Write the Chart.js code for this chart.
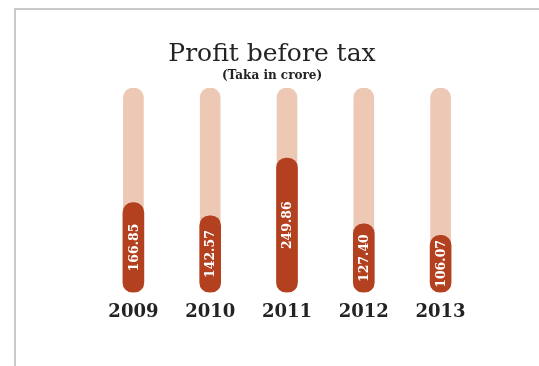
<!DOCTYPE html>
<html>
<head>
<meta charset="utf-8">
<title>Profit before tax</title>
<script src="https://cdn.jsdelivr.net/npm/chart.js@4/dist/chart.umd.min.js"></script>
<style>
  html, body { margin: 0; padding: 0; background: #ffffff; }
  #wrap { position: relative; width: 539px; height: 366px; overflow: hidden; }
  #frame {
    position: absolute; left: 14px; top: 8px; right: -4px; bottom: -4px;
    border-top: 2px solid #c9c9c9; border-left: 2px solid #c9c9c9;
    pointer-events: none;
  }
  canvas { position: absolute; left: 0; top: 0; }
</style>
</head>
<body>
<div id="wrap">
  <canvas id="chart" width="539" height="366"></canvas>
  <div id="frame"></div>
</div>
<script>
// Profit before tax, Taka in crore
const years = ['2009', '2010', '2011', '2012', '2013'];
const profit = [166.85, 142.57, 249.86, 127.40, 106.07];
// full-height pale track behind each bar
const track = [380, 380, 380, 380, 380];
const trackMax = 380;

const titleText = 'Profit before tax';
const subtitleText = '(Taka in crore)';

const DARK = '#b3401f';
const PALE = '#edc8b4';
const INK = '#232323';

// Heading drawn across the top of the canvas
const headingPlugin = {
  id: 'heading',
  afterDraw(chart) {
    const ctx = chart.ctx;
    ctx.save();
    ctx.fillStyle = INK;
    ctx.textAlign = 'center';
    ctx.textBaseline = 'alphabetic';
    ctx.font = '25px "DejaVu Serif", serif';
    ctx.fillText(titleText, 272, 61);
    ctx.font = 'bold 12px "DejaVu Serif", serif';
    ctx.fillText(subtitleText, 272, 79);
    ctx.restore();
  }
};

// White vertical value labels centred inside each dark bar
const valueLabelPlugin = {
  id: 'valueLabels',
  afterDatasetsDraw(chart) {
    const ctx = chart.ctx;
    const meta = chart.getDatasetMeta(1);
    ctx.save();
    ctx.fillStyle = '#ffffff';
    ctx.font = 'bold 12.5px "DejaVu Serif", serif';
    ctx.textAlign = 'center';
    ctx.textBaseline = 'middle';
    meta.data.forEach((bar, i) => {
      const cy = (bar.y + bar.base) / 2;
      ctx.save();
      ctx.translate(bar.x, cy);
      ctx.rotate(-Math.PI / 2);
      ctx.fillText(profit[i].toFixed(2), 0, 1);
      ctx.restore();
    });
    ctx.restore();
  }
};

new Chart(document.getElementById('chart'), {
  type: 'bar',
  data: {
    labels: years,
    datasets: [
      {
        label: 'track',
        data: track,
        backgroundColor: PALE,
        barThickness: 20,
        borderRadius: 10,
        borderSkipped: false,
        grouped: false,
        order: 2
      },
      {
        label: 'Profit before tax',
        data: profit,
        backgroundColor: DARK,
        barThickness: 21,
        borderRadius: 10,
        borderSkipped: false,
        grouped: false,
        order: 1
      }
    ]
  },
  options: {
    responsive: false,
    animation: false,
    events: [],
    layout: { padding: { top: 88, left: 95, right: 60, bottom: 34 } },
    plugins: {
      legend: { display: false },
      title: { display: false },
      tooltip: { enabled: false }
    },
    scales: {
      x: {
        grid: { display: false, drawTicks: false },
        border: { display: false },
        ticks: {
          padding: 9,
          color: INK,
          font: { family: '"DejaVu Serif", serif', size: 18, weight: 'bold' }
        }
      },
      y: {
        display: false,
        min: 0,
        max: trackMax
      }
    }
  },
  plugins: [headingPlugin, valueLabelPlugin]
});
</script>
</body>
</html>
